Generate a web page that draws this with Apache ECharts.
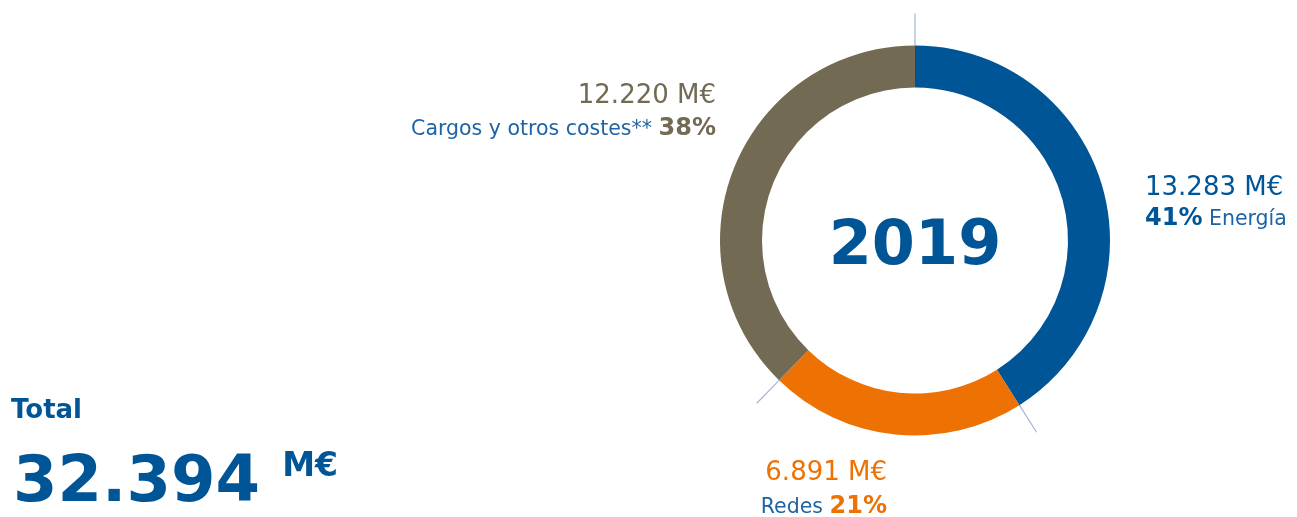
<!DOCTYPE html>
<html>
<head>
<meta charset="utf-8">
<script src="https://cdn.jsdelivr.net/npm/echarts@6/dist/echarts.min.js"></script>
<style>
  html, body { margin: 0; padding: 0; background: #ffffff; }
  #chart { width: 1297px; height: 517px; }
</style>
</head>
<body>
<div id="chart"></div>
<script>
// Cost breakdown (millions of euros)
const categories = ['Energía', 'Redes', 'Cargos y otros costes**'];
const values = [13283, 6891, 12220];
const year = '2019';
const unit = 'M€';
const totalLabel = 'Total';

const FONT = '"DejaVu Sans", sans-serif';
const BLUE = '#005596';
const NAME_BLUE = '#1e63a3';
const ORANGE = '#ee7203';
const OLIVE = '#726a52';
const TICK = '#a3b5d8';
const sliceColors = [BLUE, ORANGE, OLIVE];

const total = values.reduce((a, b) => a + b, 0);
const fmt = n => String(n).replace(/\B(?=(\d{3})+(?!\d))/g, '.');
const pct = v => Math.round(v / total * 100) + '%';

// cumulative start of each slice, used for the boundary ticks
const bounds = [];
values.reduce((acc, v) => { bounds.push(acc); return acc + v; }, 0);

const CX = 915, CY = 240.5, R_IN = 153, R_OUT = 195, R_TICK = 227;

// label placement per slice
const labelPos = [
  { x: 1145, y: 174, align: 'left', lh: 28.3 },
  { x: 887, y: 458, align: 'right', lh: 30.3 },
  { x: 716, y: 81, align: 'right', lh: 29.7 }
];

// rich text styles, one set per slice
const rich = {};
labelPos.forEach((pos, i) => {
  const c = sliceColors[i];
  rich['v' + i] = { fontFamily: FONT, fontSize: 26, color: c, lineHeight: pos.lh };
  rich['p' + i] = { fontFamily: FONT, fontSize: 24, fontWeight: 'bold', color: c, lineHeight: pos.lh, verticalAlign: 'bottom' };
  rich['n' + i] = { fontFamily: FONT, fontSize: 20.5, color: NAME_BLUE, lineHeight: pos.lh, verticalAlign: 'bottom' };
});

function labelText(i) {
  const line1 = '{v' + i + '|' + fmt(values[i]) + ' ' + unit + '}';
  const p = '{p' + i + '|' + pct(values[i]) + '}';
  const n = '{n' + i + '|' + categories[i] + '}';
  const sp = '{n' + i + '| }';
  const line2 = i === 0 ? p + sp + n : n + sp + p;
  return line1 + '\n' + line2;
}

const chart = echarts.init(document.getElementById('chart'), null, { renderer: 'canvas' });

chart.setOption({
  animation: false,
  backgroundColor: '#ffffff',
  polar: { center: [CX, CY], radius: R_TICK },
  angleAxis: { type: 'value', min: 0, max: total, startAngle: 90, clockwise: true, show: false },
  radiusAxis: { type: 'value', min: 0, max: R_TICK, show: false },
  graphic: [
    {
      type: 'text', x: CX, y: 248,
      style: { text: year, fontFamily: FONT, fontSize: 62, fontWeight: 'bold', fill: BLUE, align: 'center', verticalAlign: 'middle' }
    },
    {
      type: 'text', x: 11, y: 398,
      style: { text: totalLabel, fontFamily: FONT, fontSize: 26, fontWeight: 'bold', fill: BLUE }
    },
    {
      type: 'text', x: 13, y: 449,
      style: {
        text: '{num|' + fmt(total) + ' }{u|' + unit + '}',
        rich: {
          num: { fontFamily: FONT, fontSize: 64, fontWeight: 'bold', fill: BLUE, lineHeight: 70 },
          u: { fontFamily: FONT, fontSize: 33, fontWeight: 'bold', fill: BLUE, verticalAlign: 'top', lineHeight: 70, padding: [2, 0, 28, 0] }
        }
      }
    }
  ],
  series: [
    {
      type: 'pie',
      silent: true,
      center: [CX, CY],
      radius: [R_IN, R_OUT],
      startAngle: 90,
      clockwise: true,
      itemStyle: { borderWidth: 0 },
      labelLine: { show: false },
      label: {
        show: true,
        position: 'outside',
        overflow: 'none',
        edgeDistance: 0,
        formatter: p => labelText(p.dataIndex),
        rich: rich
      },
      labelLayout: p => {
        const pos = labelPos[p.dataIndex];
        return { x: pos.x, y: pos.y, align: pos.align, verticalAlign: 'top', width: 400 };
      },
      data: categories.map((c, i) => ({ name: c, value: values[i], itemStyle: { color: sliceColors[i] } }))
    },
    {
      // boundary ticks between slices
      type: 'custom',
      coordinateSystem: 'polar',
      silent: true,
      z: 1,
      data: bounds.map(b => [R_TICK, b]),
      encode: { radius: 0, angle: 1 },
      renderItem: (params, api) => {
        const a = api.value(1);
        const p1 = api.coord([R_OUT, a]);
        const p2 = api.coord([R_TICK, a]);
        return {
          type: 'line',
          shape: { x1: p1[0], y1: p1[1], x2: p2[0], y2: p2[1] },
          style: { stroke: TICK, lineWidth: 1.2 }
        };
      }
    }
  ]
});
</script>
</body>
</html>
